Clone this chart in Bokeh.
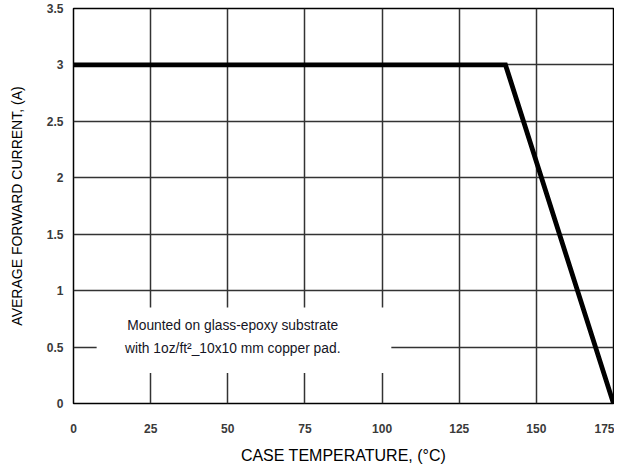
from bokeh.plotting import figure
from bokeh.models import Range1d, FixedTicker
from bokeh.core.properties import value
from bokeh.embed import file_html
from bokeh.resources import INLINE

# Data
case_temp = [0, 140, 175]
avg_current = [3, 3, 0]
x_ticks = [0, 25, 50, 75, 100, 125, 150, 175]
y_ticks = [0, 0.5, 1, 1.5, 2, 2.5, 3, 3.5]
y_tick_labels = ["0", "0.5", "1", "1.5", "2", "2.5", "3", "3.5"]
note_lines = ["Mounted on glass-epoxy substrate", "with 1oz/ft\u00b2_10x10 mm copper pad."]

p = figure(
    frame_width=540, frame_height=395,
    x_range=Range1d(0, 175), y_range=Range1d(0, 3.5),
    output_backend="svg", toolbar_location=None,
    min_border_top=8, min_border_right=1, min_border_left=73, min_border_bottom=0,
)
p.background_fill_color = "white"
p.border_fill_color = "white"
p.outline_line_color = "black"
p.outline_line_width = 1.5

for ax in (p.xaxis[0], p.yaxis[0]):
    ax.major_tick_out = 0
    ax.major_tick_in = 0
    ax.minor_tick_out = 0
    ax.minor_tick_in = 0
    ax.axis_line_color = None
    ax.major_label_text_font = "Liberation Sans"
    ax.major_label_text_font_style = "bold"
    ax.major_label_text_font_size = "12px"
    ax.major_label_text_color = "#3a3a3a"
    ax.axis_label_text_font = "Liberation Sans"
    ax.axis_label_text_font_style = "normal"
    ax.axis_label_text_color = "black"

p.xaxis.axis_label_text_font_size = "16px"
p.yaxis.axis_label_text_font_size = "14px"

p.xaxis.ticker = FixedTicker(ticks=x_ticks)
p.yaxis.ticker = FixedTicker(ticks=y_ticks)
p.yaxis.major_label_overrides = {float(t): l for t, l in zip(y_ticks, y_tick_labels)}
p.xaxis.axis_label = "CASE TEMPERATURE, (\u00b0C)"
p.yaxis.axis_label = "AVERAGE FORWARD CURRENT, (A)"
p.xaxis.major_label_standoff = 20
p.xaxis.axis_label_standoff = 11
p.yaxis.major_label_standoff = 10
p.yaxis.axis_label_standoff = 19

p.xgrid.ticker = FixedTicker(ticks=x_ticks)
p.ygrid.ticker = FixedTicker(ticks=y_ticks)
for g in (p.xgrid[0], p.ygrid[0]):
    g.grid_line_color = "#333333"
    g.grid_line_width = 1.5
    g.grid_line_alpha = 1.0

# white box behind the note
p.quad(left=7.5, right=103, bottom=0.27, top=0.85, fill_color="white", line_color=None)

p.line(case_temp, avg_current, line_color="black", line_width=4.8, line_join="miter")

p.text(x=[51.6, 51.6], y=[0.69, 0.487], text=note_lines,
       text_align="center", text_baseline="middle",
       text_font=value("Liberation Sans"), text_font_size="13.8px", text_color="#151525")

open("out.html", "w").write(file_html(p, INLINE))
